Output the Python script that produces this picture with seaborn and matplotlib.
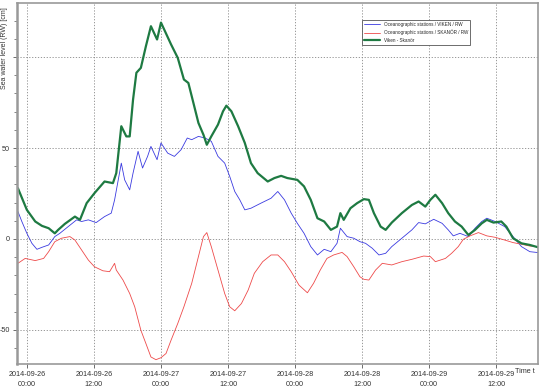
import matplotlib
matplotlib.use("Agg")
import matplotlib.pyplot as plt
from matplotlib.ticker import MultipleLocator
import numpy as np
import pandas as pd
import seaborn as sns

# hours since 2014-09-26 00:00, sea level in cm
viken_h = [-1.6, -0.9, 0, 0.9, 1.8, 2.7, 3.9, 5.0, 5.9, 7.4, 8.9, 9.8, 11.0, 12.4, 13.9,
           15.1, 15.7, 16.9, 17.5, 18.4, 19.0, 19.9, 20.7, 21.6, 22.2, 23.3, 24.0, 25.2,
           26.4, 27.6, 28.7, 29.5, 30.7, 31.9, 33.0, 34.2, 35.4, 36.3, 37.2, 38.1, 39.0,
           40.1, 41.9, 43.7, 44.9, 46.1, 47.3, 48.4, 49.6, 50.8, 52.0, 53.2, 54.4, 55.5,
           56.1, 57.3, 58.5, 59.6, 60.6, 61.8, 63.0, 64.2, 65.3, 67.1, 68.9, 70.1, 71.3,
           72.8, 74.3, 75.4, 76.3, 77.5, 79.0, 80.2, 81.4, 82.3, 83.8, 85.5, 87.0, 88.5,
           90.0, 91.5]
viken_v = [15.1, 9.6, 3.1, -2.4, -5.7, -4.6, -3.3, 1.3, 3.1, 6.8, 10.5, 9.6, 10.5, 9.0, 12.3,
           14.2, 21.5, 41.7, 32.5, 27.0, 36.2, 48.2, 39.0, 45.4, 50.9, 43.6, 52.8, 47.2,
           45.4, 49.1, 55.5, 54.6, 56.4, 55.5, 53.7, 45.4, 41.7, 34.4, 26.1, 21.5, 16.0,
           16.9, 19.7, 22.4, 26.1, 21.5, 14.2, 8.6, 3.1, -4.2, -8.8, -5.7, -7.0, -2.4,
           5.9, 1.3, 0.4, -1.5, -2.4, -5.1, -8.8, -7.9, -4.2, 0.4, 5.0, 9.0, 8.3,
           10.8, 8.6, 5.0, 1.7, 3.1, 1.3, 5.9, 9.6, 11.4, 9.6, 6.8, 1.3, -4.2,
           -7.0, -7.5]

skanor_h = [-1.6, -0.3, 1.5, 3.0, 3.9, 5.0, 6.2, 7.7, 8.6, 9.8, 11.0, 12.1, 13.6, 14.8,
            15.7, 16.0, 17.2, 18.4, 19.3, 20.4, 21.3, 22.2, 23.1, 24.0, 24.9, 25.8, 27.0,
            28.1, 29.5, 30.7, 31.6, 32.2, 33.0, 34.2, 35.4, 36.3, 37.2, 38.4, 39.6, 40.7,
            42.2, 43.7, 44.9, 46.1, 47.3, 48.7, 50.2, 51.3, 52.5, 53.7, 54.9, 56.4, 57.3,
            58.5, 59.6, 60.3, 61.2, 62.4, 63.6, 65.3, 67.1, 68.9, 71.0, 72.2, 73.1, 74.9,
            76.0, 77.2, 78.1, 79.3, 80.8, 82.3, 83.8, 85.5, 87.0, 88.5, 90.0, 91.5]
skanor_v = [-13.4, -10.7, -11.9, -10.7, -7.0, -1.5, 0.4, 1.3, -0.6, -6.1, -11.6, -15.3, -17.5, -18.0,
            -13.4, -17.1, -22.6, -30.0, -37.3, -50.2, -57.5, -64.9, -66.4, -65.3, -63.0, -55.7, -46.5,
            -37.3, -24.4, -9.7, 1.3, 3.5, -4.2, -17.1, -30.0, -37.3, -39.5, -35.5, -28.1, -18.9,
            -12.5, -8.8, -8.8, -12.5, -18.0, -25.4, -29.6, -24.4, -17.1, -10.7, -8.8, -7.4, -9.7,
            -15.3, -20.8, -22.2, -22.6, -17.1, -13.4, -14.3, -12.5, -11.2, -9.4, -9.7, -12.5, -10.7,
            -7.9, -4.2, -0.2, 1.7, 3.5, 1.7, 0.9, -0.6, -2.0, -2.9, -3.9, -4.2]

diff_h = [-1.6, 0, 1.5, 2.7, 3.9, 5.0, 5.6, 6.8, 8.6, 9.5, 10.7, 12.1, 13.9, 15.4, 16.0,
          16.9, 17.8, 18.4, 19.0, 19.6, 20.4, 21.3, 22.2, 23.3, 24.0, 24.9, 25.8, 27.0,
          28.1, 28.9, 29.5, 30.7, 31.6, 32.2, 33.0, 34.2, 35.1, 35.7, 36.6, 37.8, 39.0,
          40.1, 41.3, 43.1, 44.3, 45.5, 46.6, 48.4, 49.6, 50.8, 52.0, 53.2, 54.4, 55.5,
          56.1, 56.7, 57.9, 59.1, 60.3, 61.2, 62.1, 63.3, 64.2, 65.3, 67.1, 68.9, 70.1,
          71.3, 72.2, 73.1, 74.3, 75.4, 76.6, 77.8, 79.0, 80.2, 81.4, 82.3, 83.5, 84.9,
          85.8, 87.0, 88.5, 90.0, 91.5]
diff_v = [27.9, 16.0, 9.6, 7.2, 5.9, 3.1, 5.0, 8.3, 12.3, 10.5, 19.7, 25.2, 31.6, 30.7, 36.2,
          62.0, 56.4, 56.4, 76.6, 91.4, 94.1, 106.0, 117.0, 109.7, 119.0, 113.0, 107.0, 99.6,
          87.7, 85.8, 78.5, 63.8, 57.3, 51.8, 56.4, 62.9, 70.2, 73.3, 70.2, 62.0, 52.8,
          41.7, 36.2, 31.6, 33.5, 34.7, 33.5, 32.5, 28.9, 21.5, 11.4, 9.6, 5.0, 6.8,
          14.2, 10.5, 16.9, 19.7, 21.9, 21.5, 14.2, 6.8, 5.0, 9.0, 14.2, 18.7, 20.6,
          17.8, 21.5, 24.3, 19.7, 14.2, 9.6, 6.8, 2.2, 5.0, 8.6, 10.5, 9.0, 9.6,
          6.8, 0.4, -2.4, -3.3, -4.6]

labels = ["Oceanographic stations / VIKEN / RW",
          "Oceanographic stations / SKANÖR / RW",
          "Viken - Skanör"]
colors = ["#3a3ae0", "#ee4a4a", "#1e7a42"]
start = pd.Timestamp("2014-09-26 00:00")


def to_time(h):
    return start + pd.to_timedelta(np.array(h), unit="h")


sns.set_style("white")
plt.rcParams["font.family"] = ["Liberation Sans", "DejaVu Sans"]

fig = plt.figure(figsize=(5.42, 3.9), dpi=100)
ax = fig.add_axes([0.031, 0.067, 0.962, 0.925])

series = [(viken_h, viken_v), (skanor_h, skanor_v), (diff_h, diff_v)]
widths = [0.6, 0.6, 1.6]
for (h, v), lab, col, lw in zip(series, labels, colors, widths):
    df = pd.DataFrame({"time": to_time(h), "level": v})
    sns.lineplot(data=df, x="time", y="level", color=col, linewidth=lw, label=lab, ax=ax)

ax.set_xlim(start - pd.Timedelta(hours=1.8), start + pd.Timedelta(hours=91.5))
ax.set_ylim(-68.7, 129.7)

xt = to_time([0, 12, 24, 36, 48, 60, 72, 84])
ax.set_xticks(xt)
ax.set_xticklabels([t.strftime("%Y-%m-%d\n%H:%M") for t in xt], fontsize=5.2,
                   color="#333333", linespacing=1.6)
ax.set_yticks([-50, 0, 50, 100])
ax.set_yticklabels(["-50", "0", "50", ""], fontsize=5.2, color="#333333")
ax.yaxis.set_minor_locator(MultipleLocator(10))
ax.tick_params(axis="both", which="major", length=3, width=0.6, color="#555555", pad=2, bottom=True, left=True)
ax.tick_params(axis="y", which="minor", length=2, width=0.5, color="#555555", left=True)
ax.grid(True, which="major", linestyle=(0, (1.5, 2)), color="#888888", linewidth=0.6)

for side in ax.spines.values():
    side.set_color("#999999")
    side.set_linewidth(1.2)
ax.spines["left"].set_linewidth(1.8)

ax.set_xlabel("")
ax.set_ylabel("Sea water level (RW) [cm]", fontsize=5.0, color="#333333")
ax.yaxis.set_label_coords(-0.017, 0.875)

fig.text(0.951, 0.047, "Time t", fontsize=5.2, color="#333333", ha="left", va="center")

leg = ax.legend(loc="upper left", bbox_to_anchor=(0.658, 0.96), fontsize=3.3,
                frameon=True, fancybox=False, edgecolor="#555555", framealpha=1,
                borderpad=0.4, labelspacing=0.6, handlelength=3.5, handletextpad=0.8)
leg.get_frame().set_linewidth(0.6)

fig.savefig("out.png", dpi=100)
